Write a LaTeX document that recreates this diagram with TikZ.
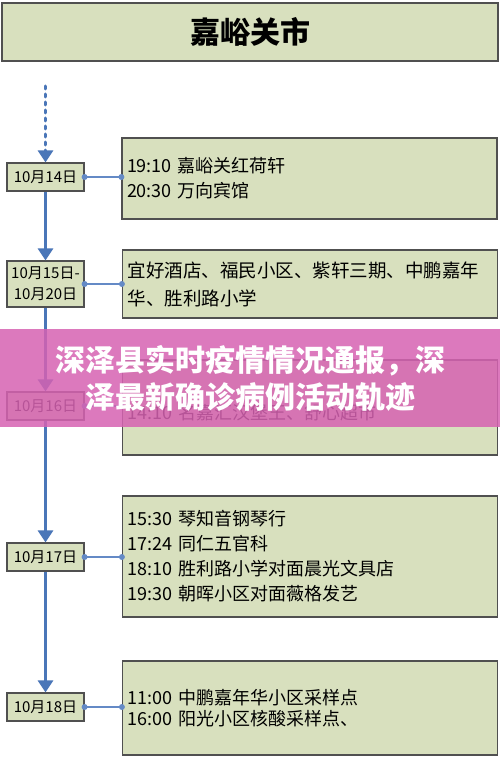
\documentclass[tikz,border=0pt]{standalone}
\usepackage{fontspec}
\setmainfont{Noto Sans CJK SC}
\usetikzlibrary{arrows.meta}
\definecolor{boxgreen}{RGB}{216,224,190}
\definecolor{boxline}{RGB}{80,80,80}
\definecolor{flowblue}{RGB}{74,118,184}
\definecolor{connblue}{RGB}{100,138,198}
\definecolor{bandpink}{RGB}{214,98,178}
\begin{document}
\begin{tikzpicture}[x=1pt,y=-1pt,
  titlebox/.style={draw=boxline,line width=1.5pt,fill=boxgreen,minimum width=496pt,minimum height=58pt,inner sep=0pt,font=\fontsize{30}{32}\selectfont\bfseries},
  datebox/.style={draw=boxline,line width=1.2pt,fill=boxgreen,minimum width=77pt,minimum height=28pt,inner sep=1pt,align=center,font=\fontsize{15}{21}\selectfont},
  detailbox/.style={draw=boxline,line width=1.2pt,fill=boxgreen,minimum width=375pt,text width=365pt,inner sep=3pt,align=left,font=\fontsize{18}{25}\selectfont},
  flow/.style={draw=flowblue,line width=3pt,-{Triangle[width=15pt,length=12pt]}},
  dotflow/.style={draw=flowblue,line width=3pt,dash pattern=on 3pt off 5pt,line cap=round,-{Triangle[width=15pt,length=12pt]}},
  conn/.style={draw=connblue,line width=1.6pt},
  band/.style={fill=bandpink,fill opacity=0.85},
  bandtext/.style={text=white,align=center,font=\fontsize{30}{37}\selectfont\bfseries}
]
\useasboundingbox (0,0) rectangle (500,757);
\fill[white] (0,0) rectangle (500,757);

\node[titlebox] (title) at (250,32) {嘉峪关市};

\coordinate (start) at (45.5,86);
\node[datebox] (d14) at (45.5,177) {10月14日};
\node[datebox,minimum height=46pt] (d1520) at (45.5,284) {10月15日-\\10月20日};
\node[datebox] (d16) at (45.5,406) {10月16日};
\node[datebox] (d17) at (45.5,557) {10月17日};
\node[datebox] (d18) at (45.5,707) {10月18日};

\node[detailbox,minimum height=81pt] (b14) at (309.5,178.5) {19:10 嘉峪关红荷轩\\20:30 万向宾馆};
\node[detailbox,minimum height=68pt,font=\fontsize{18.5}{28}\selectfont] (b1520) at (310,284) {宜好酒店、福民小区、紫轩三期、中鹏嘉年\\华、胜利路小学};
\node[detailbox,minimum height=95pt] (b16) at (310,407.5) {\mbox{}\\14:10 名嘉汇汉堡王、舒心超市};
\node[detailbox,minimum height=121pt] (b17) at (310,556.5) {15:30 琴知音钢琴行\\17:24 同仁五官科\\18:10 胜利路小学对面晨光文具店\\19:30 朝晖小区对面薇格发艺};
\node[detailbox,minimum height=94pt,font=\fontsize{18}{21}\selectfont] (b18) at (310,708) {11:00 中鹏嘉年华小区采样点\\16:00 阳光小区核酸采样点、};

\draw[dotflow] (start) -- (d14.north);
\draw[flow] (d14.south) -- (d1520.north);
\draw[flow] (d1520.south) -- (d16.north);
\draw[flow] (d16.south) -- (d17.north);
\draw[flow] (d17.south) -- (d18.north);

\foreach \d/\b in {d14/b14,d1520/b1520,d16/b16,d17/b17,d18/b18}{
  \draw[conn] (\d.east) -- (\d.east -| \b.west);
  \fill[connblue] (\d.east) circle (3pt);
  \fill[connblue] (\d.east -| \b.west) circle (3pt);
}

\fill[band] (0,329) rectangle (500,427);
\node[bandtext] (bandtitle) at (250,378.5) {深泽县实时疫情情况通报，深\\泽最新确诊病例活动轨迹};
\end{tikzpicture}
\end{document}
